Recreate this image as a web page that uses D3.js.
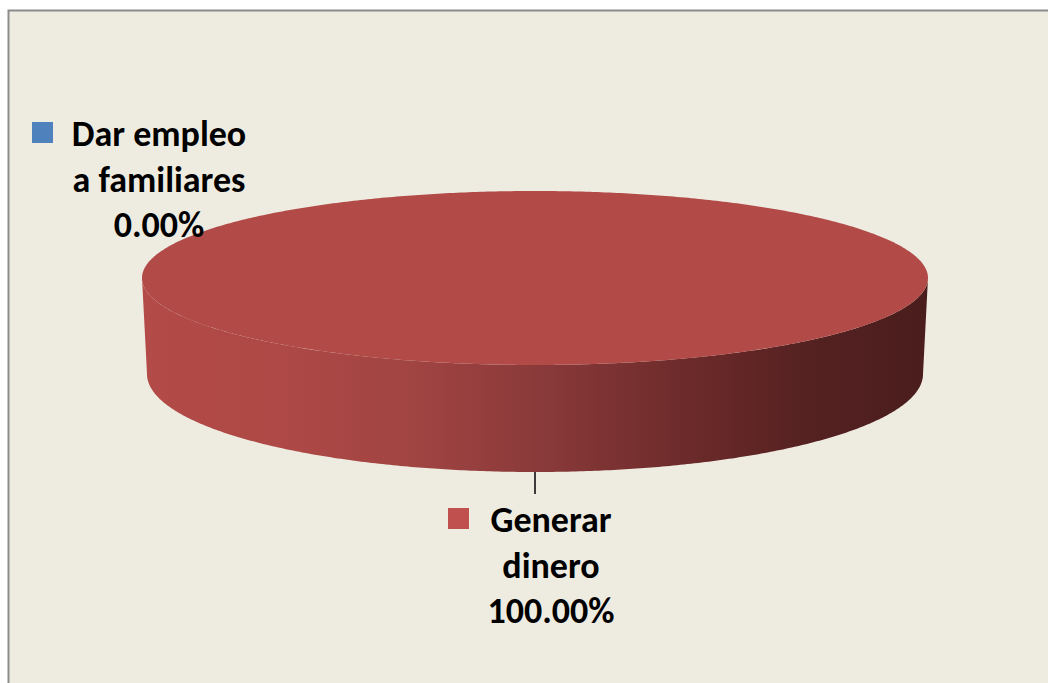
<!DOCTYPE html>
<html>
<head>
<meta charset="utf-8">
<script src="https://cdn.jsdelivr.net/npm/d3@7"></script>
<style>
  html, body { margin: 0; padding: 0; background: #ffffff; }
  svg { display: block; }
  text { font-family: Carlito, Lato, "Open Sans", sans-serif; font-weight: bold; fill: #000; }
</style>
</head>
<body>
<div id="chart"></div>
<script>
// Datos del grafico
const categories = ["Dar empleo a familiares", "Generar dinero"];
const labelLines = [["Dar empleo", "a familiares"], ["Generar", "dinero"]];
const values = [0, 100];
const colors = ["#4F81BD", "#C0504D"];

const width = 1048;
const height = 683;

const svg = d3.select("#chart").append("svg")
    .attr("width", width)
    .attr("height", height);

// Fondo del area del grafico
svg.append("rect")
    .attr("x", 8.5).attr("y", 10.5)
    .attr("width", width).attr("height", height)
    .attr("fill", "#EEECE1")
    .attr("stroke", "#8C8C8C")
    .attr("stroke-width", 2);

// Elipses superior e inferior (perspectiva)
const cx = 535;
const topE = { cx: 535, cy: 278, rx: 393, ry: 87 };
const botE = { cx: 535, cy: 374, rx: 388, ry: 98 };

function pt(e, a) {
    return [e.cx + e.rx * Math.sin(a), e.cy - e.ry * Math.cos(a)];
}

function arcPoints(e, a0, a1) {
    const n = Math.max(2, Math.ceil(Math.abs(a1 - a0) / 0.01));
    return d3.range(n + 1).map(i => pt(e, a0 + (a1 - a0) * i / n));
}

const line = d3.line();

// Gradiente del lateral
const defs = svg.append("defs");
const grad = defs.append("linearGradient")
    .attr("id", "side")
    .attr("gradientUnits", "userSpaceOnUse")
    .attr("x1", topE.cx - topE.rx).attr("x2", topE.cx + topE.rx)
    .attr("y1", 0).attr("y2", 0);
[[0, "#B34B48"], [0.2, "#AC4845"], [0.35, "#A04442"], [0.5, "#8B3A3A"],
 [0.7, "#6C2A2A"], [0.85, "#552121"], [1, "#4A1D1D"]].forEach(s => {
    grad.append("stop").attr("offset", s[0]).attr("stop-color", s[1]);
});

const pie = d3.pie().sort(null).value(d => d)(values);

// Lateral frontal de cada porcion
pie.forEach((d, i) => {
    if (d.endAngle - d.startAngle <= 0) return;
    const a0 = Math.max(d.startAngle, Math.PI / 2);
    const a1 = Math.min(d.endAngle, 3 * Math.PI / 2);
    if (a1 <= a0) return;
    const pts = arcPoints(topE, a0, a1).concat(arcPoints(botE, a1, a0));
    svg.append("path")
        .attr("d", line(pts) + "Z")
        .attr("fill", "url(#side)");
});

// Cara superior
pie.forEach((d, i) => {
    if (d.endAngle - d.startAngle <= 0) return;
    let pts = arcPoints(topE, d.startAngle, d.endAngle);
    if (d.endAngle - d.startAngle < 2 * Math.PI - 1e-6) pts.push([topE.cx, topE.cy]);
    svg.append("path")
        .attr("d", line(pts) + "Z")
        .attr("fill", "#B24A47");
});

// Etiquetas
const fmt = v => d3.format(".2f")(v) + "%";
const total = d3.sum(values);
const labelPos = [
    { x: 159, y: 146, key: 32, keyY: 122 },
    { x: 551, y: 532, key: 448, keyY: 508 }
];
const lineH = 45.5;

pie.forEach((d, i) => {
    const p = labelPos[i];
    svg.append("rect")
        .attr("x", p.key).attr("y", p.keyY)
        .attr("width", 21).attr("height", 21)
        .attr("fill", colors[i]);
    const t = svg.append("text")
        .attr("text-anchor", "middle")
        .attr("font-size", 36);
    labelLines[i].concat([fmt(100 * d.value / total)]).forEach((s, j) => {
        t.append("tspan").attr("x", p.x).attr("y", p.y + j * lineH).text(s);
    });
});

// Linea guia de la porcion mayor
const big = pie[1];
const mid = (big.startAngle + big.endAngle) / 2;
const lp = pt(botE, mid);
svg.append("line")
    .attr("x1", lp[0]).attr("y1", lp[1])
    .attr("x2", lp[0]).attr("y2", 494)
    .attr("stroke", "#000").attr("stroke-width", 1.5);
</script>
</body>
</html>
